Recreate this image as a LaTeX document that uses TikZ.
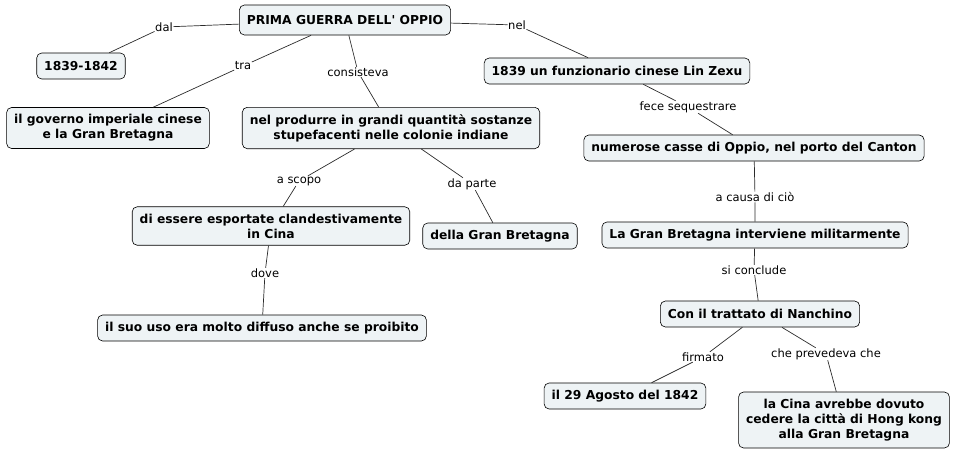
\documentclass[tikz,border=0pt]{standalone}
\usepackage{fontspec}
\setmainfont{DejaVu Sans}[Ligatures=TeXOff]
\definecolor{cmfill}{HTML}{EEF3F5}
\definecolor{cmline}{HTML}{2B2B2B}
\begin{document}
\begin{tikzpicture}[x=1pt,y=-1pt,
  c/.style={draw=black,rounded corners=5pt,fill=cmfill,line width=0.6pt,
    font=\fontsize{12.3}{15}\selectfont\bfseries,align=center,
    inner xsep=7.5pt,inner ysep=7pt,minimum height=26pt},
  l/.style={font=\fontsize{11.5}{15}\selectfont,inner sep=0.5pt},
  lnk/.style={draw=cmline,line width=0.7pt}]
  \useasboundingbox (0,0) rectangle (954,456);
  % top: the main concept
  \node[c,minimum height=30pt] (guerra) at (345,20) {PRIMA GUERRA DELL' OPPIO};
  % left branch
  \node[c] (anni) at (81,66) {1839-1842};
  \node[c] (parti) at (108,128) {il governo imperiale cinese\\e la Gran Bretagna};
  \node[c] (consiste) at (391,128) {nel produrre in grandi quantità sostanze\\stupefacenti nelle colonie indiane};
  \node[c] (esporta) at (271,226) {di essere esportate clandestivamente\\in Cina};
  \node[c] (gb) at (500,236) {della Gran Bretagna};
  \node[c] (uso) at (262,328) {il suo uso era molto diffuso anche se proibito};
  % right branch
  \node[c] (lin) at (617,71) {1839 un funzionario cinese Lin Zexu};
  \node[c] (casse) at (754,148) {numerose casse di Oppio, nel porto del Canton};
  \node[c] (intervento) at (755,235) {La Gran Bretagna interviene militarmente};
  \node[c] (trattato) at (760,314) {Con il trattato di Nanchino};
  \node[c] (data) at (625,396) {il 29 Agosto del 1842};
  \node[c] (hongkong) at (844,420) {la Cina avrebbe dovuto\\cedere la città di Hong kong\\alla Gran Bretagna};
  % linking phrases
  \node[l] (ldal) at (164,27) {dal};
  \node[l] (ltra) at (243,66) {tra};
  \node[l] (lcons) at (358,72) {consisteva};
  \node[l] (lnel) at (517,25) {nel};
  \node[l] (lfece) at (688,107) {fece sequestrare};
  \node[l] (lscopo) at (299,181) {a scopo};
  \node[l] (lparte) at (472,184) {da parte};
  \node[l] (ldove) at (265,273) {dove};
  \node[l] (lcausa) at (755,197) {a causa di ciò};
  \node[l] (lconcl) at (754,270) {si conclude};
  \node[l] (lfirm) at (703,357) {firmato};
  \node[l] (lprev) at (826,354) {che prevedeva che};
  % connectors
  \draw[lnk] (guerra) -- (ldal) (ldal) -- (anni);
  \draw[lnk] (guerra) -- (ltra) (ltra) -- (parti);
  \draw[lnk] (guerra) -- (lcons) (lcons) -- (consiste);
  \draw[lnk] (guerra) -- (lnel) (lnel) -- (lin);
  \draw[lnk] (lin) -- (lfece) (lfece) -- (casse);
  \draw[lnk] (consiste) -- (lscopo) (lscopo) -- (esporta);
  \draw[lnk] (consiste) -- (lparte) (lparte) -- (gb);
  \draw[lnk] (esporta) -- (ldove) (ldove) -- (uso);
  \draw[lnk] (casse) -- (lcausa) (lcausa) -- (intervento);
  \draw[lnk] (intervento) -- (lconcl) (lconcl) -- (trattato);
  \draw[lnk] (trattato) -- (lfirm) (lfirm) -- (data);
  \draw[lnk] (trattato) -- (lprev) (lprev) -- (hongkong);
\end{tikzpicture}
\end{document}
